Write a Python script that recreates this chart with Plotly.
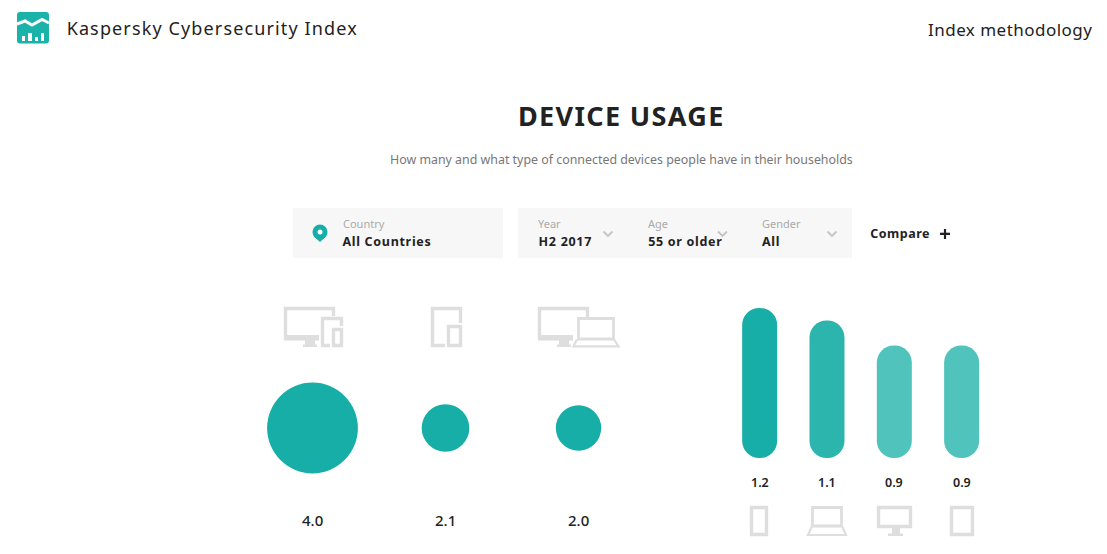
import json
import plotly.graph_objects as go

W, H = 1107, 554

# Data
group_names = ["All devices", "Mobile devices", "Computers"]
group_values = [4.0, 2.1, 2.0]
device_names = ["Smartphone", "Laptop", "Desktop", "Tablet"]
device_values = [1.2, 1.1, 0.9, 0.9]
device_colors = ["#16aea6", "#2cb5ad", "#50c3bc", "#50c3bc"]

TEAL = "#16aea6"
ICON = "#dedede"
DARK = "#222222"
FONT = "Noto Sans"


def px(x):
    return x / W


def py(y):
    return 1 - y / H


shapes = []
annotations = []
spacing = {}


def path(points, close=False, fill=None, line=ICON, lw=3.4):
    d = "M " + " L ".join(f"{px(x):.5f},{py(y):.5f}" for x, y in points)
    if close:
        d += " Z"
    shapes.append(dict(type="path", xref="paper", yref="paper", path=d,
                       fillcolor=fill if fill else "rgba(0,0,0,0)",
                       line=dict(color=line, width=lw) if lw else dict(width=0), layer="below"))


def rect(x0, y0, x1, y1, fill=ICON):
    shapes.append(dict(type="rect", xref="paper", yref="paper", x0=px(x0), x1=px(x1),
                       y0=py(y1), y1=py(y0), fillcolor=fill, line=dict(width=0), layer="below"))


def circle(cx, cy, r, fill):
    shapes.append(dict(type="circle", xref="paper", yref="paper", x0=px(cx - r), x1=px(cx + r),
                       y0=py(cy + r), y1=py(cy - r), fillcolor=fill, line=dict(width=0), layer="below"))


def text(x, y, s, size, color=DARK, anchor="left", weight=400, ls=0):
    annotations.append(dict(xref="paper", yref="paper", x=px(x), y=py(y), text=s, showarrow=False,
                            xanchor=anchor, yanchor="middle", align=anchor, borderpad=0, borderwidth=0,
                            font=dict(family=FONT, size=size, color=color, weight=weight)))
    if ls:
        spacing[s] = ls


# Header
def rounded(x0, y0, x1, y1, r, fill):
    p = lambda x, y: f"{px(x):.5f},{py(y):.5f}"
    d = (f"M {p(x0 + r, y0)} L {p(x1 - r, y0)} Q {p(x1, y0)} {p(x1, y0 + r)} L {p(x1, y1 - r)} "
         f"Q {p(x1, y1)} {p(x1 - r, y1)} L {p(x0 + r, y1)} Q {p(x0, y1)} {p(x0, y1 - r)} "
         f"L {p(x0, y0 + r)} Q {p(x0, y0)} {p(x0 + r, y0)} Z")
    shapes.append(dict(type="path", xref="paper", yref="paper", layer="below", path=d,
                       fillcolor=fill, line=dict(width=0)))


rounded(17, 12, 49, 43.5, 3, "#1ab3a9")
path([(17, 24), (25, 21), (32, 25), (42, 19.5), (49, 23)], line="white", lw=3)
for x0, y0, x1 in [(22, 36, 25), (28, 33, 32), (35, 37, 38), (41, 33, 44)]:
    rect(x0, y0, x1, 41, "white")
text(212.5, 28, "Kaspersky Cybersecurity Index", 18, anchor="center", ls=1.13)
text(1010.5, 30, "Index methodology", 17, anchor="center", ls=0.47)

# Heading
text(621, 116, "DEVICE USAGE", 27, anchor="center", weight=700, ls=1.35)
text(621.5, 159, "How many and what type of connected devices people have in their households", 12.4,
     color="#777777", anchor="center")

# Filter panels
rect(293, 208, 503, 258, "#f7f7f7")
rect(518, 208, 852, 258, "#f7f7f7")
circle(320, 232, 7.5, TEAL)
path([(313.5, 236), (320, 242), (326.5, 236)], close=True, fill=TEAL, line=TEAL, lw=0)
circle(320, 232, 2.5, "white")
for x, y, label, value, center in [(343, 224, "Country", "All Countries", 387), (538, 224, "Year", "H2 2017", 565),
                                   (648, 224, "Age", "55 or older", 685), (762, 224, "Gender", "All", 771)]:
    text(x, y, label, 11, color="#aaaaaa")
    text(center, y + 17.5, value, 12.5, weight=700, anchor="center", ls=0.7)
for x in [603.5, 718, 827.5]:
    path([(x, 231.5), (x + 4.5, 236), (x + 9, 231.5)], line="#c4c4c4", lw=1.8)
text(900, 233.5, "Compare", 12.5, weight=700, anchor="center", ls=0.5)
rect(940, 232.7, 950, 235, DARK)
rect(943.9, 229, 946.1, 239, DARK)

# Upper icons
for ox in [0, 254]:
    path([(333.5 + ox, 316 if ox == 0 else 317), (333.5 + ox, 308.5), (285.5 + ox, 308.5), (285.5 + ox, 338), (319 + ox, 338)])
    rect(284 + ox, 335, 319 + ox, 340.5)
    rect(305 + ox, 340, 315 + ox, 345)
    rect(303 + ox, 344.5, 317 + ox, 347)
path([(330, 345.5), (322.5, 345.5), (322.5, 318.5), (341.5, 318.5), (341.5, 326)])
path([(333.5, 329.5), (341.5, 329.5), (341.5, 345.5), (333.5, 345.5)], close=True)
path([(460.5, 323), (460.5, 308.5), (432.5, 308.5), (432.5, 345.5), (445, 345.5)])
path([(448.5, 326.5), (460.5, 326.5), (460.5, 345.5), (448.5, 345.5)], close=True)
path([(578.5, 339), (578.5, 318.5), (613.5, 318.5), (613.5, 339)], close=True, lw=2.8)
path([(577, 339.5), (573.5, 346.3), (618.5, 346.3), (614, 339.5)], lw=2.2)

# Lower icons
path([(751.5, 507.5), (766.5, 507.5), (766.5, 534.5), (751.5, 534.5)], close=True)
path([(812.5, 507.5), (841.5, 507.5), (841.5, 526), (812.5, 526)], close=True, lw=2.8)
path([(812, 526), (808, 535), (846, 535), (842, 526)], lw=2.2)
path([(878.5, 507.5), (910.5, 507.5), (910.5, 526.5), (878.5, 526.5)], close=True)
rect(892, 528, 900, 534)
rect(888, 533.5, 903, 536)
path([(951.5, 507.5), (972.5, 507.5), (972.5, 534.5), (951.5, 534.5)], close=True)

fig = go.Figure()

# Bubbles: diameter is linear in value
DIAMETER_PER_UNIT = 22.7
fig.add_trace(go.Scatter(x=group_names, y=[0] * len(group_names), mode="markers",
                         xaxis="x", yaxis="y",
                         marker=dict(size=group_values, sizemode="diameter", sizeref=1 / DIAMETER_PER_UNIT,
                                     color=TEAL, opacity=1, line=dict(width=0)),
                         hoverinfo="x+text", text=[f"{v:.1f}" for v in group_values], showlegend=False))

# Pills: an explicit base makes Plotly round both ends of the bar
fig.add_trace(go.Bar(x=device_names, y=device_values, base=[0] * len(device_values), xaxis="x2", yaxis="y2",
                     marker=dict(color=device_colors, line=dict(width=0)), width=0.52,
                     hovertemplate="%{x}: %{y}<extra></extra>", showlegend=False))

for name, v in zip(group_names, group_values):
    annotations.append(dict(xref="x", yref="paper", x=name, y=py(520), text=f"{v:.1f}", showarrow=False,
                            xanchor="center", yanchor="middle", borderpad=0, borderwidth=0,
                            font=dict(family=FONT, size=15, color=DARK, weight=500)))
for name, v in zip(device_names, device_values):
    annotations.append(dict(xref="x2", yref="paper", x=name, y=py(482), text=f"{v:.1f}", showarrow=False,
                            xanchor="center", yanchor="middle", borderpad=0, borderwidth=0,
                            font=dict(family=FONT, size=12.5, color=DARK, weight=600)))

hidden = dict(showgrid=False, zeroline=False, showticklabels=False, ticks="", showline=False)
fig.update_layout(
    width=W, height=H, margin=dict(l=0, r=0, t=0, b=0),
    paper_bgcolor="white", plot_bgcolor="rgba(0,0,0,0)",
    barcornerradius=17.5,
    shapes=shapes, annotations=annotations, showlegend=False,
    xaxis=dict(domain=[px(246), px(645)], range=[-0.5, 2.5], type="category",
               categoryorder="array", categoryarray=group_names, **hidden),
    yaxis=dict(domain=[py(480), py(376)], range=[-1, 1], **hidden),
    xaxis2=dict(domain=[px(726), px(995.3)], range=[-0.5, 3.5], type="category",
                categoryorder="array", categoryarray=device_names, anchor="y2", **hidden),
    yaxis2=dict(domain=[py(458), py(300)], range=[0, 158 / 125], anchor="x2", **hidden),
)

post = ("document.body.style.margin='0';document.body.style.overflow='hidden';"
        "var sp=" + json.dumps(spacing) + ";"
        "document.querySelectorAll('.annotation-text').forEach(function(t){"
        "var v=sp[t.textContent];if(v){t.style.letterSpacing=v+'px';}});")
fig.write_html("out.html", config={"displayModeBar": False}, post_script=post)
